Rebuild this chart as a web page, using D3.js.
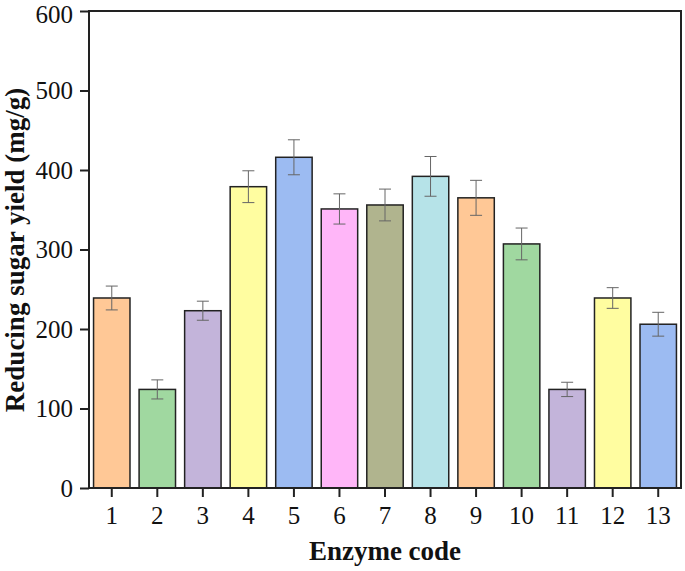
<!DOCTYPE html>
<html><head><meta charset="utf-8">
<script src="https://cdn.jsdelivr.net/npm/d3@7"></script>
<style>body{margin:0;background:#fff}svg{display:block}
text{font-family:"Liberation Serif","Times New Roman",serif !important;}</style>
</head><body>
<svg id="c" width="685" height="571"></svg>
<script>
const categories = ["1","2","3","4","5","6","7","8","9","10","11","12","13"];
const values = [239, 124, 223, 379, 416, 351, 356, 392, 365, 307, 124, 239, 206];
const errors = [15, 12, 12, 20, 22, 19, 20, 25, 22, 20, 9, 13, 15];
const barColors = ["#FFC896","#A0D8A0","#C3B4DA","#FFFDA0","#9CBBF2","#FFB6F8","#B0B48E","#B6E3E8","#FFC896","#A0D8A0","#C3B4DA","#FFFDA0","#9CBBF2"];
const yTicks = [0,100,200,300,400,500,600];
const xTitle = "Enzyme code";
const yTitle = "Reducing sugar yield (mg/g)";

const svg = d3.select("#c");
const W = 685, H = 571;
const m = {l:89, r:W-681, t:11, b:H-488};
const x = d3.scaleBand().domain(categories).range([m.l, W-m.r]).paddingInner(0.2).paddingOuter(0.1);
const y = d3.scaleLinear().domain([0,600]).range([H-m.b, m.t]);

// bars
svg.append("g").selectAll("rect").data(values).join("rect")
  .attr("x",(d,i)=>x(categories[i]))
  .attr("y",d=>y(d))
  .attr("width",x.bandwidth())
  .attr("height",d=>y(0)-y(d))
  .attr("fill",(d,i)=>barColors[i])
  .attr("stroke","#222").attr("stroke-width",1.5);

// error bars
const eg = svg.append("g").attr("stroke","#666").attr("stroke-width",1);
values.forEach((v,i)=>{
  const cx = x(categories[i]) + x.bandwidth()/2;
  const e = errors[i];
  eg.append("line").attr("x1",cx).attr("x2",cx).attr("y1",y(v+e)).attr("y2",y(v-e));
  eg.append("line").attr("x1",cx-6).attr("x2",cx+6).attr("y1",y(v+e)).attr("y2",y(v+e));
  eg.append("line").attr("x1",cx-6).attr("x2",cx+6).attr("y1",y(v-e)).attr("y2",y(v-e));
});

// frame
svg.append("rect").attr("x",m.l).attr("y",m.t).attr("width",W-m.r-m.l).attr("height",H-m.b-m.t)
  .attr("fill","none").attr("stroke","#222").attr("stroke-width",2);

// axes
const xa = svg.append("g").attr("transform",`translate(0,${H-m.b})`)
  .call(d3.axisBottom(x).tickSize(9).tickPadding(9));
const ya = svg.append("g").attr("transform",`translate(${m.l},0)`)
  .call(d3.axisLeft(y).tickValues(yTicks).tickSize(9).tickPadding(7));
[xa,ya].forEach(a=>{
  a.select(".domain").remove();
  a.selectAll(".tick line").attr("stroke","#222").attr("stroke-width",2);
  a.selectAll("text").style("font-size","25px").attr("fill","#111");
});
ya.selectAll(".tick text").filter(d=>d===600).attr("dy","0.45em");

svg.append("text").attr("x",385).attr("y",560).attr("text-anchor","middle")
  .style("font-weight","bold").style("font-size","27px").attr("fill","#111").text(xTitle);
svg.append("text").attr("transform","translate(24,250) rotate(-90)").attr("text-anchor","middle")
  .style("font-weight","bold").style("font-size","27px").attr("fill","#111").text(yTitle);
</script>
</body></html>
